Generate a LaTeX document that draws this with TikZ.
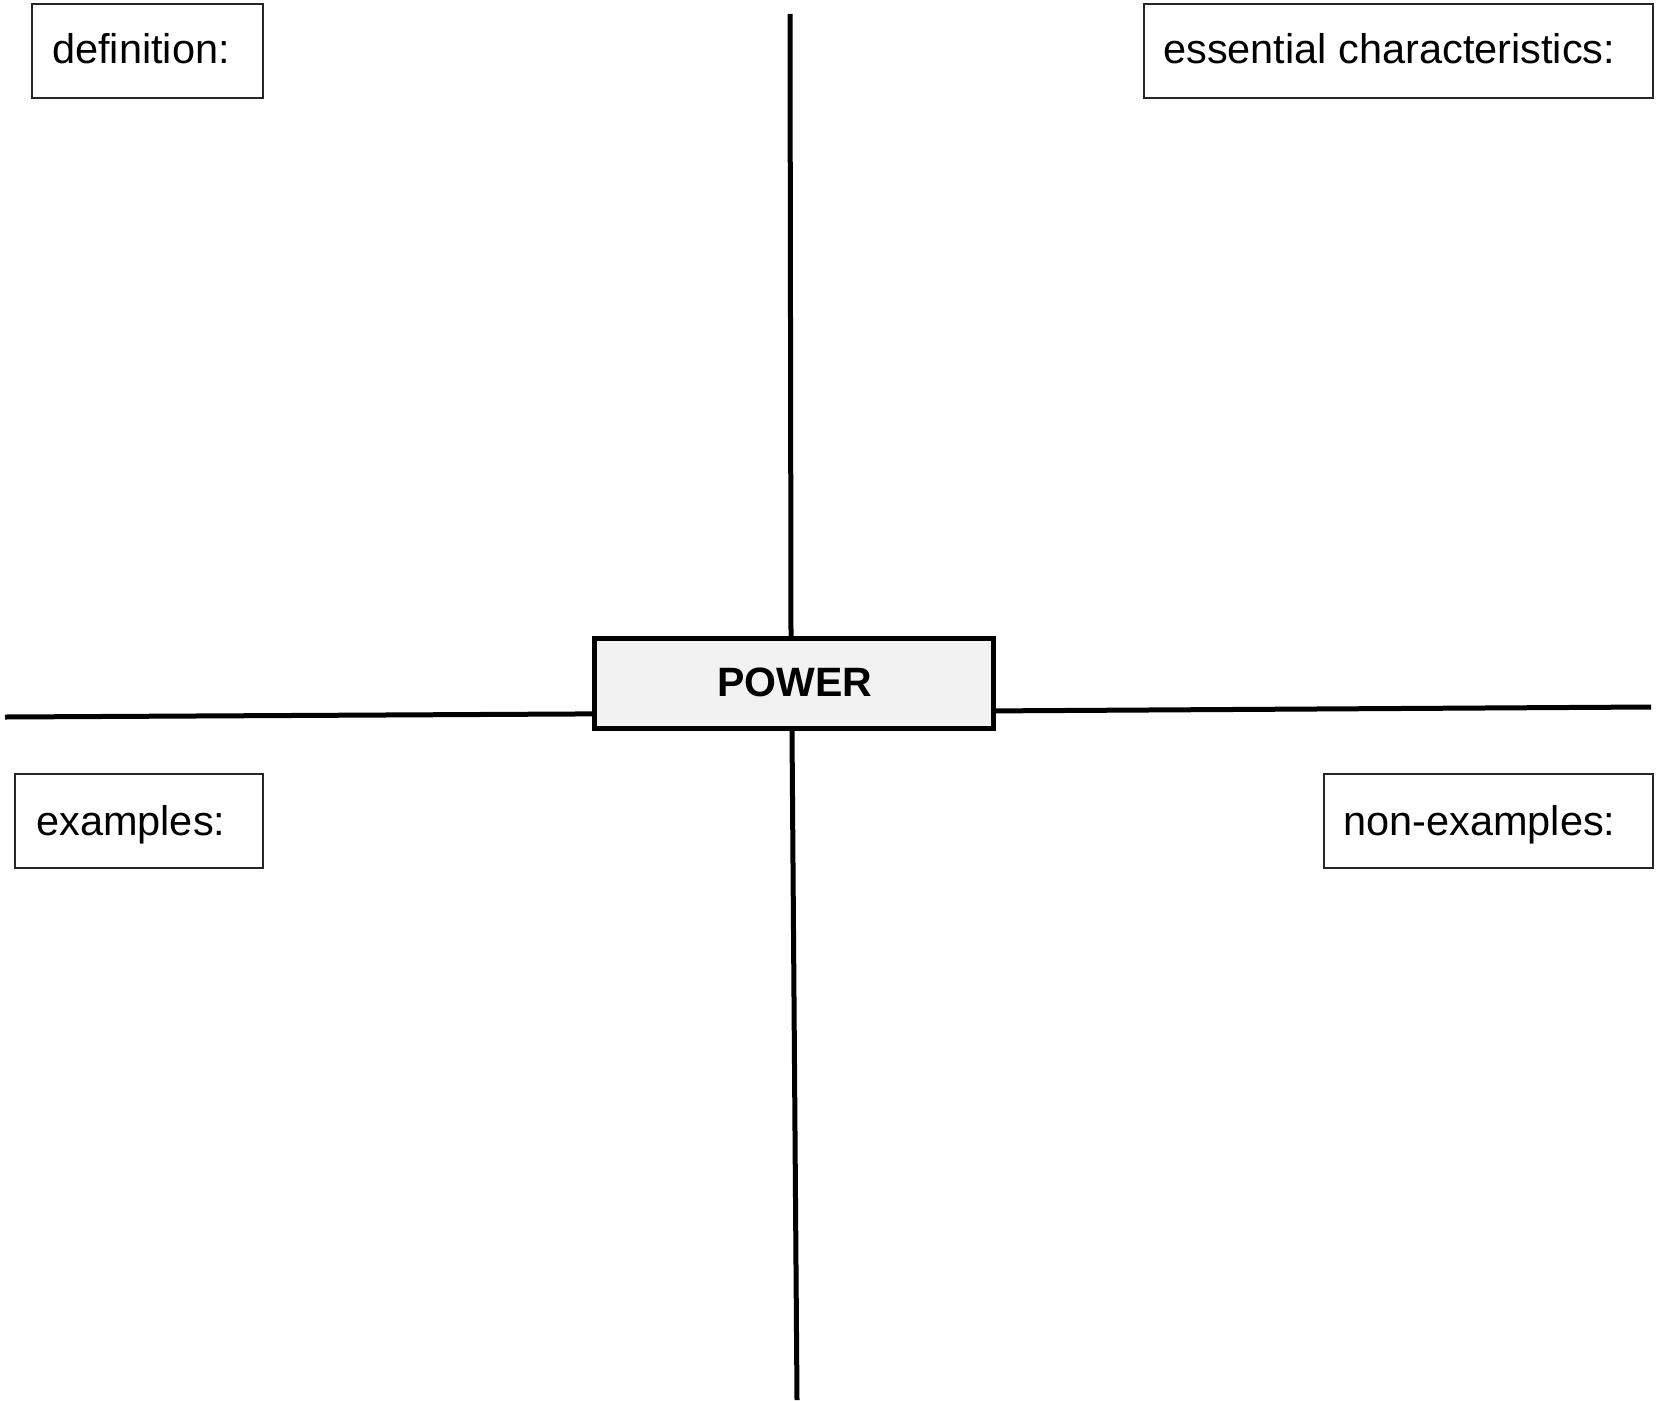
\documentclass[tikz,border=0pt]{standalone}
\usepackage{fontspec}
\setmainfont{Liberation Sans}
\usetikzlibrary{calc}
\begin{document}
\begin{tikzpicture}[x=1pt,y=-1pt,
  labelbox/.style={draw=black!85,line width=2pt,rectangle,anchor=north west,inner sep=0pt},
  labeltext/.style={anchor=base west,inner sep=0pt,font=\fontsize{41.5}{49}\selectfont},
  axis/.style={line width=5pt,black},
  centerbox/.style={draw=black,line width=4.8pt,fill=black!5,rectangle,minimum width=399pt,minimum height=90pt,inner sep=0pt,font=\bfseries\fontsize{41}{49}\selectfont}]
\useasboundingbox[fill=white] (0,0) rectangle (1656,1400);
% quadrant label boxes
\node[labelbox,minimum width=231pt,minimum height=94pt] (defbox) at (31,3) {};
\node[labeltext] (deftext) at (52,63) {definition:};
\node[labelbox,minimum width=509pt,minimum height=94pt] (essbox) at (1143,3) {};
\node[labeltext] (esstext) at (1163,63) {essential characteristics:};
\node[labelbox,minimum width=248pt,minimum height=94pt] (exbox) at (14,773) {};
\node[labeltext] (extext) at (36,835) {examples:};
\node[labelbox,minimum width=329pt,minimum height=94pt] (nexbox) at (1323,773) {};
\node[labeltext] (nextext) at (1343,835) {non-examples:};
% axes
\coordinate (topend) at (790,14);
\coordinate (botend) at (797,1400);
\coordinate (leftend) at (5,717);
\coordinate (rightend) at (1651,707);
\node[centerbox] (power) at (794,683.5) {};
\draw[axis] (topend) -- ([xshift=-3pt]power.north);
\draw[axis] ([xshift=-2pt]power.south) -- (botend);
\draw[axis] (leftend) -- ([yshift=17pt]power.south west);
\draw[axis] ([yshift=20pt]power.south east) -- (rightend);
\node[centerbox] (power2) at (794,683.5) {};
\node[anchor=base,inner sep=0pt,font=\bfseries\fontsize{41}{49}\selectfont] (powertext) at (795,696) {POWER};
\end{tikzpicture}
\end{document}
